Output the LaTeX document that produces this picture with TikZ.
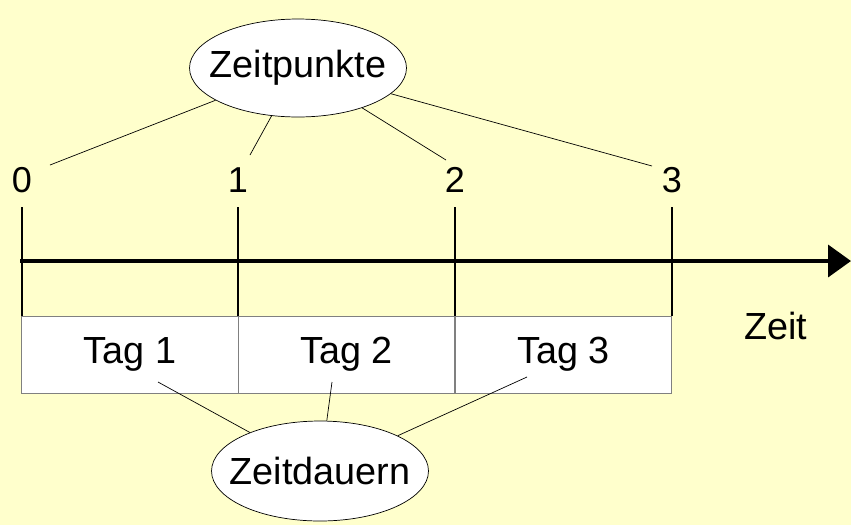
\documentclass[tikz,border=0pt]{standalone}
\usepackage{fontspec}
\setmainfont{Liberation Sans}
\usetikzlibrary{positioning,shapes.geometric,arrows.meta}
\definecolor{bgyellow}{RGB}{255,255,204}

\begin{document}
\begin{tikzpicture}[
        x=0.02cm, y=-0.02cm,
        bubble/.style={ellipse, draw=black, fill=white, thin, minimum width=4.34cm, minimum height=1.96cm, inner xsep=-0.32cm, inner ysep=0pt, font=\fontsize{21.5}{25}\selectfont},
        cell/.style={rectangle, draw=gray, fill=white, minimum width=4.33cm, minimum height=1.54cm, inner sep=0pt, font=\fontsize{21.5}{25}\selectfont},
        ticklabel/.style={inner sep=1pt, font=\fontsize{20.5}{24}\selectfont},
        tickline/.style={line width=1.1pt},
        axisline/.style={line width=2.2pt, -{Triangle[length=0.46cm, width=0.64cm]}},
        link/.style={thin}
    ]

    % background and frame of the page
    \fill[bgyellow] (0,0) rectangle (851,525);
    \useasboundingbox (0,0) rectangle (851,525);

    % the three days
    \node[cell] (c1) at (130,354.5) {Tag 1};
    \node[cell] (c2) at (346.5,354.5) {Tag 2};
    \node[cell] (c3) at (563.5,354.5) {Tag 3};

    % points in time on the axis
    \foreach \i/\x in {0/22, 1/238, 2/455, 3/672} {
        \node[ticklabel] (l\i) at (\x,180) {\i};
        \coordinate (top\i) at (\x,207);
        \coordinate (bot\i) at (\x,316);
        \draw[tickline] (top\i) -- (bot\i);
    }

    % time axis
    \coordinate (ax0) at (20,261);
    \coordinate (ax1) at (851,261);
    \draw[axisline] (ax0) -- (ax1);
    \node[font=\fontsize{21.5}{25}\selectfont] (zeit) at (776,326) {Zeit};

    % the two ellipses
    \node[bubble] (zp) at (298,68) {Zeitpunkte};
    \node[bubble, minimum height=2.0cm] (zd) at (320,471) {Zeitdauern};

    % free ends of the connectors
    \coordinate (p0) at (50,165);
    \coordinate (p1) at (250,155);
    \coordinate (p2) at (446,160);
    \coordinate (p3) at (652,166);
    \coordinate (d1) at (158,382);
    \coordinate (d2) at (332,382);
    \coordinate (d3) at (527,377);

    % connectors to the points
    \foreach \i in {0,...,3}
        \draw[link] (zp) -- (p\i);

    % connectors to the durations
    \foreach \i in {1,2,3}
        \draw[link] (zd) -- (d\i);
\end{tikzpicture}
\end{document}
